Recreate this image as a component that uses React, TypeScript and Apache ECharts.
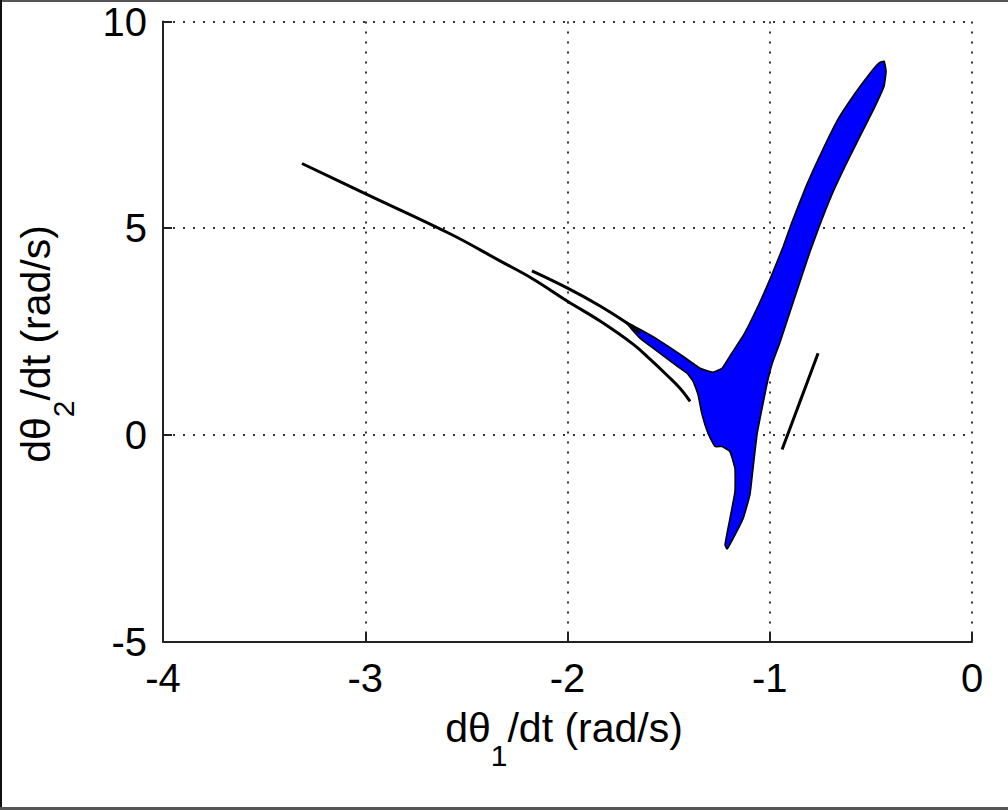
import React, { useEffect, useRef } from "react";
import * as echarts from "echarts";

// Long black trajectory
const lineAX = [-3.313, -3.011, -2.581, -2.334, -2.171, -2.002, -1.839, -1.676, -1.592, -1.508, -1.444, -1.394];
const lineAY = [6.566, 5.862, 4.866, 4.211, 3.774, 3.240, 2.755, 2.197, 1.833, 1.444, 1.129, 0.813];

// Upper black trajectory merging with the blue band
const lineBX = [-2.176, -2.002, -1.839, -1.706, -1.642];
const lineBY = [3.968, 3.556, 3.119, 2.706, 2.464];

// Short black segment near x = -0.9
const lineCX = [-0.939, -0.85, -0.761];
const lineCY = [-0.352, 0.813, 1.978];

// Outline of the blue filled region
const blueX = [
  -1.711, -1.557, -1.444, -1.345, -1.281, -1.236, -1.191, -1.127, -1.053, -0.994,
  -0.934, -0.895, -0.821, -0.747, -0.663, -0.578, -0.504, -0.46, -0.435, -0.425,
  -0.435, -0.484, -0.554, -0.628, -0.697, -0.752, -0.801, -0.851, -0.900, -0.949,
  -0.989, -1.014, -1.048, -1.063, -1.083, -1.098, -1.132, -1.182, -1.211, -1.221,
  -1.197, -1.172, -1.172, -1.197, -1.236, -1.271, -1.305, -1.335, -1.355, -1.379,
  -1.409, -1.478, -1.557, -1.642,
];
const blueY = [
  2.73, 2.318, 1.954, 1.614, 1.517, 1.614, 1.954, 2.439, 3.167, 3.823,
  4.551, 5.085, 6.007, 6.808, 7.633, 8.264, 8.750, 8.993, 9.041, 8.799,
  8.435, 7.901, 7.222, 6.493, 5.765, 5.085, 4.430, 3.702, 2.973, 2.245,
  1.711, 1.226, 0.4, 0.012, -0.813, -1.444, -2.027, -2.512, -2.755, -2.658,
  -2.027, -1.371, -0.813, -0.4, -0.279, -0.279, 0.036, 0.498, 0.983, 1.299,
  1.493, 1.735, 2.027, 2.342,
];

const xTicks = { min: -4, max: 0, interval: 1 };
const yTicks = { min: -5, max: 10, interval: 5 };

const FONT = "'Liberation Sans', Arial, Helvetica, sans-serif";

const pairs = (xs: number[], ys: number[]) => xs.map((x, i) => [x, ys[i]]);

export default function App() {
  const ref = useRef<HTMLDivElement>(null);
  useEffect(() => {
    if (!ref.current) return;
    const chart = echarts.init(ref.current, null, { renderer: "svg" });
    const axisCommon = {
      type: "value" as const,
      axisLine: { show: true, onZero: false, lineStyle: { color: "#222", width: 2 } },
      axisTick: { show: true, inside: true, length: 9, lineStyle: { color: "#222", width: 2 } },
      splitLine: { show: true, lineStyle: { type: [2, 8], color: "#333", width: 2 } },
      axisLabel: { color: "#000", fontSize: 40, fontFamily: FONT },
    };
    const blackLine = (name: string, data: number[][]) => ({
      name,
      type: "line",
      data,
      showSymbol: false,
      smooth: 0.4,
      lineStyle: { color: "#000", width: 3 },
      z: 3,
    });
    const richTitle = {
      n: { fontSize: 41, fontFamily: FONT, fill: "#000" },
      s: { fontSize: 30, fontFamily: FONT, fill: "#000", padding: [54, 0, 0, 0] },
    };
    chart.setOption({
      animation: false,
      backgroundColor: "#fff",
      grid: { left: 163, right: 36, top: 21.5, bottom: 168.3, containLabel: false },
      xAxis: {
        ...axisCommon,
        ...xTicks,
        axisLabel: { ...axisCommon.axisLabel, margin: 16 },
      },
      yAxis: {
        ...axisCommon,
        ...yTicks,
        axisLabel: { ...axisCommon.axisLabel, margin: 16 },
      },
      series: [
        {
          name: "band",
          type: "custom",
          z: 2,
          data: [[blueX[0], blueY[0]]],
          renderItem: (_params: any, api: any) => {
            const pts = blueX.map((x, i) => api.coord([x, blueY[i]]));
            return {
              type: "polygon",
              shape: { points: pts, smooth: 0.12 },
              style: { fill: "#0000ff", stroke: "#000", lineWidth: 1.6 },
            };
          },
        },
        blackLine("a", pairs(lineAX, lineAY)),
        blackLine("b", pairs(lineBX, lineBY)),
        blackLine("c", pairs(lineCX, lineCY)),
      ],
      graphic: [
        { type: "rect", shape: { x: 0, y: 0, width: 1008, height: 2 }, style: { fill: "#555" } },
        { type: "rect", shape: { x: 0, y: 0, width: 2, height: 810 }, style: { fill: "#111" } },
        { type: "rect", shape: { x: 0, y: 807, width: 1008, height: 3 }, style: { fill: "#555" } },
        {
          type: "text",
          x: 564,
          y: 728,
          style: {
            text: "{n|dθ}{s|1}{n|/dt (rad/s)}",
            align: "center",
            verticalAlign: "middle",
            rich: richTitle,
          },
        },
        {
          type: "text",
          x: 36,
          y: 344,
          rotation: Math.PI / 2,
          style: {
            text: "{n|dθ}{s|2}{n|/dt (rad/s)}",
            align: "center",
            verticalAlign: "middle",
            rich: richTitle,
          },
        },
      ],
    });
    return () => chart.dispose();
  }, []);
  return (
    <div
      ref={ref}
      style={{ position: "absolute", left: 0, top: 0, width: 1008, height: 810 }}
    />
  );
}
